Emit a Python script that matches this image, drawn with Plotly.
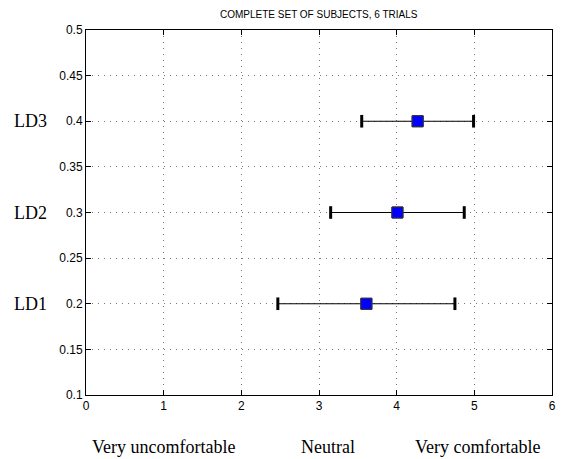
import plotly.graph_objects as go

labels = ["LD1", "LD2", "LD3"]
y_pos = [0.2, 0.3, 0.4]
means = [3.61, 4.01, 4.27]
errs = [1.14, 0.86, 0.72]
x_ticks = [0, 1, 2, 3, 4, 5, 6]
y_ticks = [0.1, 0.15, 0.2, 0.25, 0.3, 0.35, 0.4, 0.45, 0.5]
y_ticktext = ["0.1", "0.15", "0.2", "0.25", "0.3", "0.35", "0.4", "0.45", "0.5"]
scale_labels = ["Very uncomfortable", "Neutral", "Very comfortable"]
scale_pos = [1.0, 3.11, 5.04]

fig = go.Figure()

fig.add_trace(go.Scatter(
    x=means, y=y_pos, mode="markers",
    marker=dict(symbol="square", size=11, color="#0000ff",
                line=dict(color="#333333", width=1)),
    error_x=dict(type="data", array=errs, visible=True,
                 color="black", thickness=1.2, width=0),
    showlegend=False,
))

cap_x = [m - e for m, e in zip(means, errs)] + [m + e for m, e in zip(means, errs)]
cap_y = y_pos + y_pos
fig.add_trace(go.Scatter(
    x=cap_x, y=cap_y, mode="markers",
    marker=dict(symbol="line-ns", size=9, line=dict(color="black", width=3)),
    showlegend=False,
))
fig.add_trace(go.Scatter(
    x=means, y=y_pos, mode="markers",
    marker=dict(symbol="square", size=11, color="#0000ff",
                line=dict(color="#333333", width=1)),
    showlegend=False,
))

axis_common = dict(
    showline=True, linecolor="black", linewidth=1, mirror="ticks",
    ticks="inside", ticklen=5, tickcolor="black",
    showgrid=True, gridcolor="#777777", griddash="1px,5px", gridwidth=1,
    zeroline=False,
    tickfont=dict(family="Liberation Sans, Arial", size=12, color="black"),
)

fig.update_xaxes(range=[0, 6], tickvals=x_ticks, **axis_common)
fig.update_yaxes(range=[0.1, 0.5], tickvals=y_ticks, ticktext=y_ticktext, **axis_common)

annotations = [dict(
    text="COMPLETE SET OF SUBJECTS, 6 TRIALS", x=0.5, y=1, xref="paper", yref="paper",
    xanchor="center", yanchor="bottom", yshift=8, showarrow=False,
    font=dict(family="Liberation Sans, Arial", size=10, color="black"))]
for lab, yv in zip(labels, y_pos):
    annotations.append(dict(text=lab, x=0, xref="paper", y=yv, yref="y",
                            xanchor="right", xshift=-37, showarrow=False,
                            font=dict(family="Liberation Serif, Times New Roman", size=18, color="black")))
for lab, xv in zip(scale_labels, scale_pos):
    annotations.append(dict(text=lab, x=xv, xref="x", y=0, yref="paper",
                            yanchor="top", yshift=-40, showarrow=False,
                            font=dict(family="Liberation Serif, Times New Roman", size=18, color="black")))

fig.update_layout(
    width=564, height=459,
    margin=dict(l=86, r=8, t=30, b=64),
    paper_bgcolor="white", plot_bgcolor="white",
    annotations=annotations,
)

fig.write_html("out.html")
